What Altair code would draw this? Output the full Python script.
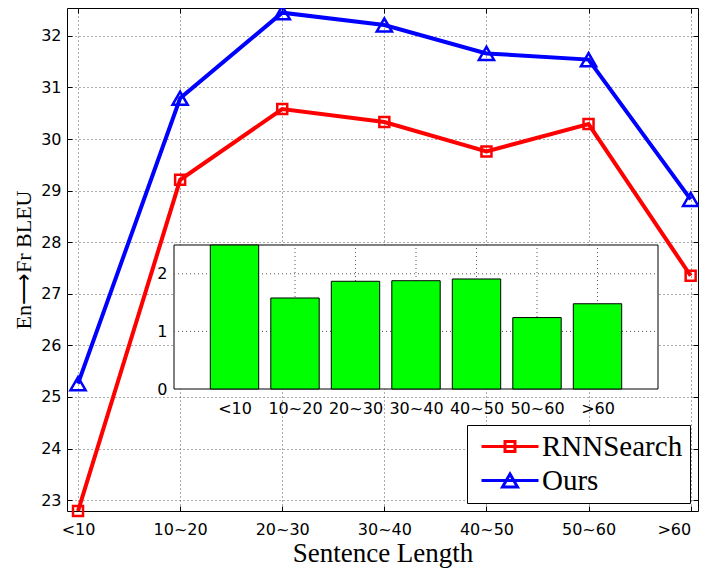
import json
import altair as alt
import pandas as pd

# ---------------- data ----------------
categories = ["<10", "10~20", "20~30", "30~40", "40~50", "50~60", ">60"]
rnnsearch_bleu = [22.79, 29.21, 30.58, 30.33, 29.76, 30.29, 27.35]
ours_bleu = [25.26, 30.79, 32.45, 32.21, 31.66, 31.54, 28.83]
bleu_gain = [2.50, 1.58, 1.87, 1.88, 1.91, 1.24, 1.48]
series_names = ["RNNSearch", "Ours"]
series_colors = ["#ff0000", "#0000ff"]
main_y_ticks = [23, 24, 25, 26, 27, 28, 29, 30, 31, 32]
inset_y_ticks = [0, 1, 2]

# ---------------- layout / style ----------------
W, H = 631, 503
PAD_LEFT = 59
MAIN_X_DOMAIN = [-0.108, 6.072]
MAIN_Y_DOMAIN = [22.79, 32.54]
INSET_X_DOMAIN = [-1, 7]
INSET_Y_DOMAIN = [0, 2.5]
INSET_X_RANGE = [107, 591]
INSET_Y_RANGE = [381, 237]
BAR_HALF = 0.4
TICK = 5
GRID_COLOR = "#555555"
GRID_DASH = [1, 3]
TICK_FONT = "DejaVu Sans"

idx = list(range(len(categories)))
label_expr = json.dumps(categories) + "[datum.value]"

main_df = pd.DataFrame({
    "idx": idx * 2,
    "series": [series_names[0]] * len(idx) + [series_names[1]] * len(idx),
    "bleu": rnnsearch_bleu + ours_bleu,
})
inset_df = pd.DataFrame({"idx": idx, "gain": bleu_gain})
frame_df = pd.DataFrame({"x0": [INSET_X_DOMAIN[0]], "x1": [INSET_X_DOMAIN[1]],
                         "y0": [INSET_Y_DOMAIN[0]], "y1": [INSET_Y_DOMAIN[1]]})
hgrid_df = pd.DataFrame({"y": inset_y_ticks[1:],
                         "x0": INSET_X_DOMAIN[0], "x1": INSET_X_DOMAIN[1]})
vgrid_df = pd.DataFrame({"x": idx, "y0": INSET_Y_DOMAIN[0], "y1": INSET_Y_DOMAIN[1]})

# ---------------- main panel ----------------
main_x_scale = alt.Scale(domain=MAIN_X_DOMAIN, nice=False, zero=False)
main_y_scale = alt.Scale(domain=MAIN_Y_DOMAIN, nice=False, zero=False)
main_x_axis = alt.Axis(values=idx, labelExpr=label_expr, title="Sentence Length",
                       orient="bottom", offset=-TICK, tickSize=TICK, domain=False,
                       grid=True, labelPadding=10, titlePadding=3, labelFlush=8,
                       titleFont="Liberation Serif", titleFontSize=27,
                       titleFontWeight="normal")
main_y_axis = alt.Axis(values=main_y_ticks, title="En⟶Fr BLEU",
                       orient="left", offset=-TICK, tickSize=TICK, domain=False,
                       grid=True, labelPadding=6, titlePadding=5,
                       titleFont="Liberation Serif", titleFontSize=22,
                       titleFontWeight="normal")
mx = alt.X("idx:Q", scale=main_x_scale, axis=main_x_axis)
my = alt.Y("bleu:Q", scale=main_y_scale, axis=main_y_axis)
color_scale = alt.Scale(domain=series_names, range=series_colors)

legend_obj = alt.Legend(title=None, orient="bottom-right", offset=8, padding=7,
                        fillColor="white", strokeColor="black",
                        labelFont="Liberation Serif", labelFontSize=29,
                        labelColor="black", symbolSize=100, symbolStrokeWidth=3,
                        labelOffset=39, rowPadding=4)
legend_paths = ["M-1.4,0H10M3.3,-1H5.3V1H3.3Z",
                "M-1.4,0H10M4.3,-1.3L5.8,1.3L2.8,1.3Z"]
color_enc = alt.Color("series:N", scale=color_scale, legend=legend_obj)

legend_layer = alt.Chart(main_df).transform_filter("false").mark_point(
    filled=False, opacity=1).encode(
    x=mx, y=my, color=color_enc,
    shape=alt.Shape("series:N", scale=alt.Scale(domain=series_names, range=legend_paths),
                    legend=legend_obj))
lines = alt.Chart(main_df).mark_line(strokeWidth=4).encode(x=mx, y=my, color=color_enc)
pts_r = alt.Chart(main_df).transform_filter(
    alt.datum.series == series_names[0]
).mark_point(shape="square", size=100, strokeWidth=2.5, filled=False, opacity=1).encode(
    x=mx, y=my, color=color_enc)
pts_o = alt.Chart(main_df).transform_filter(
    alt.datum.series == series_names[1]
).mark_point(shape="triangle-up", size=230, strokeWidth=2.5, filled=False, opacity=1).encode(
    x=mx, y=my, color=color_enc)
layer_main = alt.layer(legend_layer, lines, pts_r, pts_o)

# ---------------- inset ----------------
ix_scale = alt.Scale(domain=INSET_X_DOMAIN, range=INSET_X_RANGE, nice=False, zero=False)
iy_scale = alt.Scale(domain=INSET_Y_DOMAIN, range=INSET_Y_RANGE, nice=False, zero=False)
ix_axis = alt.Axis(values=idx, labelExpr=label_expr, orient="bottom",
                   offset=-(H - INSET_Y_RANGE[0]), ticks=False, domain=False,
                   grid=False, labelPadding=11, title=None)
iy_axis = alt.Axis(values=inset_y_ticks, orient="left", offset=-INSET_X_RANGE[0],
                   ticks=False, domain=False, grid=False, labelPadding=7, title=None)

frame = alt.Chart(frame_df).mark_rect(fill="white", stroke="black", strokeWidth=1).encode(
    x=alt.X("x0:Q", scale=ix_scale, axis=ix_axis), x2="x1",
    y=alt.Y("y0:Q", scale=iy_scale, axis=iy_axis), y2="y1")
hgrid = alt.Chart(hgrid_df).mark_rule(color=GRID_COLOR, strokeDash=GRID_DASH, strokeWidth=1).encode(
    x=alt.X("x0:Q", scale=ix_scale, axis=ix_axis), x2="x1",
    y=alt.Y("y:Q", scale=iy_scale, axis=iy_axis))
vgrid = alt.Chart(vgrid_df).mark_rule(color=GRID_COLOR, strokeDash=GRID_DASH, strokeWidth=1).encode(
    x=alt.X("x:Q", scale=ix_scale, axis=ix_axis),
    y=alt.Y("y0:Q", scale=iy_scale, axis=iy_axis), y2="y1")
bars = alt.Chart(inset_df).transform_calculate(
    x0=f"datum.idx - {BAR_HALF}", x1=f"datum.idx + {BAR_HALF}", b0="0"
).mark_rect(fill="#00ff00", stroke="black", strokeWidth=1).encode(
    x=alt.X("x0:Q", scale=ix_scale, axis=ix_axis), x2="x1:Q",
    y=alt.Y("gain:Q", scale=iy_scale, axis=iy_axis), y2="b0:Q")
layer_inset = alt.layer(frame, hgrid, vgrid, bars)

# ---------------- inward ticks on top / right ----------------
edge = alt.Chart(main_df).mark_point(opacity=0).encode(
    x=alt.X("idx:Q", scale=main_x_scale,
            axis=alt.Axis(values=idx, orient="top", offset=-TICK, tickSize=TICK,
                          labels=False, domain=False, grid=False, title=None)),
    y=alt.Y("bleu:Q", scale=main_y_scale,
            axis=alt.Axis(values=main_y_ticks, orient="right", offset=-TICK, tickSize=TICK,
                          labels=False, domain=False, grid=False, title=None)))

chart = alt.layer(layer_main, layer_inset, edge).resolve_scale(
    x="independent", y="independent"
).properties(
    width=W, height=H,
    padding={"left": PAD_LEFT, "top": 0, "right": 1, "bottom": 58},
    autosize=alt.AutoSizeParams(type="none"),
).configure_view(
    stroke="black", strokeWidth=1
).configure_axis(
    labelFont=TICK_FONT, labelFontSize=16, labelColor="black",
    tickColor="black", tickWidth=1, gridColor=GRID_COLOR, gridDash=GRID_DASH,
    gridOpacity=1, gridWidth=1, titleColor="black"
)

chart.save("out.html", embed_options={"renderer": "svg", "actions": False})
